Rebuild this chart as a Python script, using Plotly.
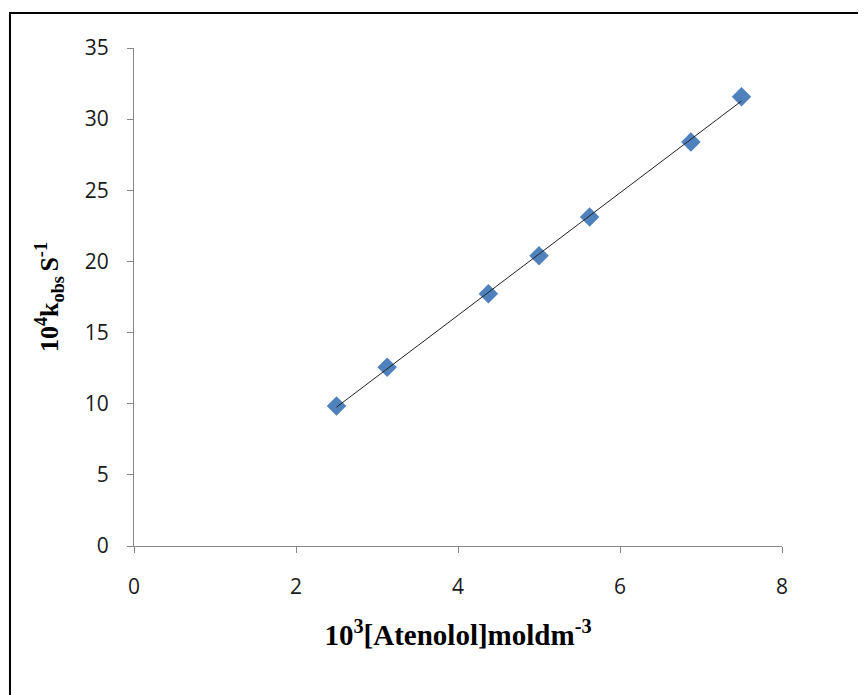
import numpy as np
import plotly.graph_objects as go

# Data
atenolol = [2.5, 3.125, 4.375, 5.0, 5.625, 6.875, 7.5]       # 10^3 [Atenolol] mol dm^-3
kobs = [9.84, 12.56, 17.73, 20.40, 23.12, 28.39, 31.58]       # 10^4 k_obs s^-1

x_ticks = [0, 2, 4, 6, 8]
y_ticks = [0, 5, 10, 15, 20, 25, 30, 35]

# Linear trendline (least squares), drawn over the data span
slope, intercept = np.polyfit(atenolol, kobs, 1)
fit_x = [min(atenolol), max(atenolol)]
fit_y = [slope * v + intercept for v in fit_x]

fig = go.Figure()
fig.add_trace(go.Scatter(
    x=atenolol, y=kobs, mode="markers",
    marker=dict(symbol="diamond", size=15, color="#4F81BD",
                line=dict(width=0)),
    showlegend=False,
))
fig.add_trace(go.Scatter(
    x=fit_x, y=fit_y, mode="lines",
    line=dict(color="#222222", width=1),
    showlegend=False,
))

axis_common = dict(
    showgrid=False, zeroline=False, showline=True,
    linecolor="#868686", linewidth=1,
    ticks="outside", ticklen=6, tickcolor="#868686", tickwidth=1,
    tickfont=dict(family="Open Sans, Liberation Sans, sans-serif", size=21, color="#1a1a1a"),
)

fig.update_layout(
    width=866, height=695,
    margin=dict(l=126, r=92, t=40, b=157, autoexpand=False),
    paper_bgcolor="white", plot_bgcolor="white",
    xaxis=dict(range=[0, 8], tickvals=x_ticks, ticklabelstandoff=16,
               title=dict(text="<b>10<sup>3</sup>[Atenolol]moldm<sup>-3</sup></b>",
                          font=dict(family="Liberation Serif, Times New Roman, serif",
                                    size=29, color="black"),
                          standoff=25),
               **axis_common),
    yaxis=dict(range=[0, 35], tickvals=y_ticks, ticklabelstandoff=14,
               title=dict(text="<b>10<sup>4</sup>k<sub>obs </sub>S<sup>-1</sup></b>",
                          font=dict(family="Liberation Serif, Times New Roman, serif",
                                    size=26, color="black"),
                          standoff=18),
               **axis_common),
)

# Outer frame (extends past the right and bottom edges as in the reference)
fig.add_shape(type="rect", xref="paper", yref="paper",
              x0=-0.1914, x1=1.25, y0=-0.4, y1=1.0703,
              line=dict(color="black", width=2), fillcolor="rgba(0,0,0,0)",
              layer="below")

fig.write_html("out.html")
